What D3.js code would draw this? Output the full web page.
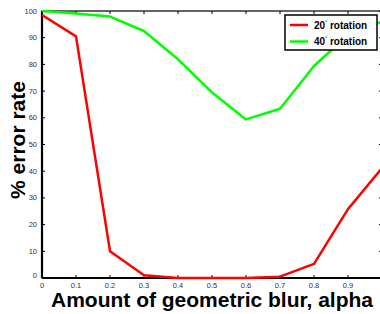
<!DOCTYPE html>
<html>
<head>
<meta charset="utf-8">
<script src="https://cdn.jsdelivr.net/npm/d3@7"></script>
<style>
  body { margin: 0; background: #fff; }
  svg { display: block; font-family: "Liberation Sans", Arial, sans-serif; }
</style>
</head>
<body>
<div id="chart"></div>
<script>
// blur amounts along x
var alphas = [0, 0.1, 0.2, 0.3, 0.4, 0.5, 0.6, 0.7, 0.8, 0.9, 1.0]
// % error rate for each rotation
var rot20 = [98.5, 90.5, 10, 1, 0, 0, 0, 0.5, 5.3, 25.8, 41.2]
var rot40 = [100, 99.1, 97.9, 92.5, 81.9, 69.5, 59.4, 63.4, 79.4, 91, 96]
var xTicks = [0, 0.1, 0.2, 0.3, 0.4, 0.5, 0.6, 0.7, 0.8, 0.9]
var yTicks = [0, 10, 20, 30, 40, 50, 60, 70, 80, 90, 100]
var seriesNames = ["20", "40"]
var seriesColors = ["#ff0000", "#00ff00"]

var width = 380, height = 314
var svg = d3.select("#chart").append("svg")
    .attr("width", width)
    .attr("height", height)

var x = d3.scaleLinear().domain([0, 1]).range([42, 382])
var y = d3.scaleLinear().domain([0, 100]).range([278, 11])

// frame
svg.append("rect")
    .attr("x", x(0)).attr("y", y(100))
    .attr("width", x(1) - x(0)).attr("height", y(0) - y(100))
    .attr("fill", "none").attr("stroke", "#000").attr("stroke-width", 1.2)

// inward ticks on all four sides
var tickLen = 3
xTicks.forEach(function(t){
  svg.append("line").attr("x1", x(t)).attr("x2", x(t))
     .attr("y1", y(0)).attr("y2", y(0) - tickLen).attr("stroke", "#000")
  svg.append("line").attr("x1", x(t)).attr("x2", x(t))
     .attr("y1", y(100)).attr("y2", y(100) + tickLen).attr("stroke", "#000")
  svg.append("text").attr("x", x(t)).attr("y", y(0) + 9.5)
     .attr("text-anchor", "middle").attr("font-size", 7.5).attr("fill", "#333")
     .text(t === 0 ? "0" : d3.format(".1f")(t))
})
yTicks.forEach(function(t){
  svg.append("line").attr("x1", x(0)).attr("x2", x(0) + tickLen)
     .attr("y1", y(t)).attr("y2", y(t)).attr("stroke", "#000")
  svg.append("line").attr("x1", x(1)).attr("x2", x(1) - tickLen)
     .attr("y1", y(t)).attr("y2", y(t)).attr("stroke", "#000")
  svg.append("text").attr("x", x(0) - 5).attr("y", y(t) + 2.5 - (t === 0 ? 3 : 0))
     .attr("text-anchor", "end").attr("font-size", 7.5).attr("fill", "#333")
     .text(t)
})

// thick left/bottom axis lines
svg.append("line").attr("x1", x(0)).attr("x2", x(0)).attr("y1", y(0)).attr("y2", y(100))
   .attr("stroke", "#000").attr("stroke-width", 2.2)
svg.append("line").attr("x1", x(0)).attr("x2", x(1)).attr("y1", y(0)).attr("y2", y(0))
   .attr("stroke", "#000").attr("stroke-width", 2.2)

var line = d3.line()
    .x(function(d, i){ return x(alphas[i]) })
    .y(function(d){ return y(d) })

;[rot20, rot40].forEach(function(s, k){
  svg.append("path").datum(s)
     .attr("d", line)
     .attr("fill", "none")
     .attr("stroke", seriesColors[k])
     .attr("stroke-width", 2.5)
     .attr("stroke-linejoin", "round")
})

// legend
var lg = svg.append("g")
lg.append("rect").attr("x", 285).attr("y", 15).attr("width", 92).attr("height", 35)
  .attr("fill", "#fff").attr("stroke", "#000").attr("stroke-width", 1.5)
seriesNames.forEach(function(n, k){
  var ly = 25 + k * 16.5
  lg.append("line").attr("x1", 290).attr("x2", 308).attr("y1", ly).attr("y2", ly)
    .attr("stroke", seriesColors[k]).attr("stroke-width", 2.5)
  var t = lg.append("text").attr("x", 314).attr("y", ly + 3.5)
    .attr("font-size", 10).attr("font-weight", "bold")
  t.append("tspan").text(n)
  t.append("tspan").attr("font-size", 5).attr("dy", -5).attr("font-weight", "normal").text("°")
  t.append("tspan").attr("dy", 5).text(" rotation")
})

// axis titles
svg.append("text")
   .attr("x", 212).attr("y", 307)
   .attr("text-anchor", "middle")
   .attr("font-size", 21).attr("font-weight", "bold")
   .text("Amount of geometric blur, alpha")

svg.append("text")
   .attr("transform", "translate(25,140) rotate(-90)")
   .attr("text-anchor", "middle")
   .attr("font-size", 21).attr("font-weight", "bold")
   .text("% error rate")
</script>
</body>
</html>
